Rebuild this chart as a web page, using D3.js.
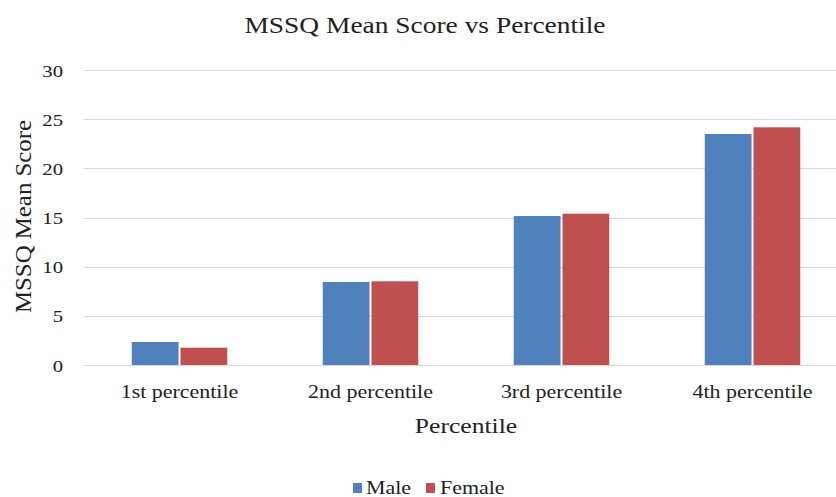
<!DOCTYPE html>
<html>
<head>
<meta charset="utf-8">
<script src="https://cdn.jsdelivr.net/npm/d3@7"></script>
<style>
  html, body { margin: 0; padding: 0; background: #fff; }
  svg { display: block; }
</style>
</head>
<body>
<svg id="chart" width="836" height="497"></svg>
<script>
const categories = ["1st percentile", "2nd percentile", "3rd percentile", "4th percentile"];
const seriesNames = ["Male", "Female"];
const maleValues = [2.34, 8.44, 15.15, 23.49];
const femaleValues = [1.76, 8.51, 15.39, 24.17];
const yTicks = [0, 5, 10, 15, 20, 25, 30];
const colors = ["#4F81BD", "#C0504D"];

const FONT = "'Liberation Serif', 'Times New Roman', serif";
const TEXT = "#222";
const SX = 1.22; // wide glyph stretch used for every label

const svg = d3.select("#chart").style("font-family", FONT);
const margin = { left: 84, right: -12, top: 70, bottom: 132 };
const W = 836, H = 497;

const x = d3.scaleBand()
  .domain(categories)
  .range([margin.left, W - margin.right])
  .paddingInner(0.5).paddingOuter(0.25);

const xs = d3.scaleBand()
  .domain(seriesNames)
  .range([0, x.bandwidth()])
  .paddingInner(0.04);

const y = d3.scaleLinear().domain([0, 30]).range([H - margin.bottom, margin.top]);

// horizontal gridlines
svg.append("g")
  .selectAll("line")
  .data(yTicks)
  .join("line")
  .attr("x1", margin.left).attr("x2", W)
  .attr("y1", d => Math.round(y(d)) + 0.5).attr("y2", d => Math.round(y(d)) + 0.5)
  .attr("stroke", "#d9d9d9").attr("stroke-width", 1.2);

// y axis labels
const yAxis = d3.axisLeft(y).tickValues(yTicks).tickSize(0).tickPadding(0);
svg.append("g")
  .attr("transform", `translate(${margin.left},0)`)
  .call(yAxis)
  .call(g => g.select(".domain").remove())
  .call(g => g.selectAll("text")
    .style("font-family", FONT)
    .attr("x", -21 / SX)
    .attr("dy", "0.36em")
    .attr("transform", `scale(${SX},1)`)
    .attr("font-size", 17).attr("fill", TEXT));

// category labels
const xAxis = d3.axisBottom(x).tickSize(0).tickPadding(20);
svg.append("g")
  .attr("transform", `translate(0,${y(0)})`)
  .call(xAxis)
  .call(g => g.select(".domain").remove())
  .call(g => g.selectAll("text")
    .style("font-family", FONT)
    .attr("transform", `scale(${SX},1)`)
    .attr("font-size", 18).attr("fill", TEXT));

// grouped bars
const rows = categories.map((c, i) => ({ cat: c, vals: [maleValues[i], femaleValues[i]] }));
svg.append("g")
  .selectAll("g")
  .data(rows)
  .join("g")
  .attr("transform", d => `translate(${x(d.cat)},0)`)
  .selectAll("rect")
  .data(d => d.vals.map((v, j) => ({ s: seriesNames[j], v, j })))
  .join("rect")
  .attr("x", d => xs(d.s))
  .attr("width", xs.bandwidth())
  .attr("y", d => y(d.v))
  .attr("height", d => y(0) - y(d.v))
  .attr("fill", d => colors[d.j]);

function label(px, py, str, size, anchor) {
  return svg.append("text")
    .attr("transform", `translate(${px},${py}) scale(${SX},1)`)
    .attr("text-anchor", anchor || "middle")
    .style("font-family", FONT)
    .attr("font-size", size)
    .attr("fill", TEXT)
    .text(str);
}

// chart title
label(425, 33, "MSSQ Mean Score vs Percentile", 22.5);

// axis titles
svg.append("text")
  .attr("transform", `translate(31,${216.5}) scale(1,1.08) rotate(-90)`)
  .attr("text-anchor", "middle")
  .style("font-family", FONT)
  .attr("font-size", 23)
  .attr("fill", TEXT)
  .text("MSSQ Mean Score");

label(466, 433, "Percentile", 21);

// legend
const legendItems = [
  { name: "Male", sx: 353, tx: 366 },
  { name: "Female", sx: 426, tx: 440 }
];
legendItems.forEach((it, j) => {
  svg.append("rect").attr("x", it.sx).attr("y", 483).attr("width", 9).attr("height", 10).attr("fill", colors[j]);
  label(it.tx, 494, it.name, 18, "start");
});
</script>
</body>
</html>
